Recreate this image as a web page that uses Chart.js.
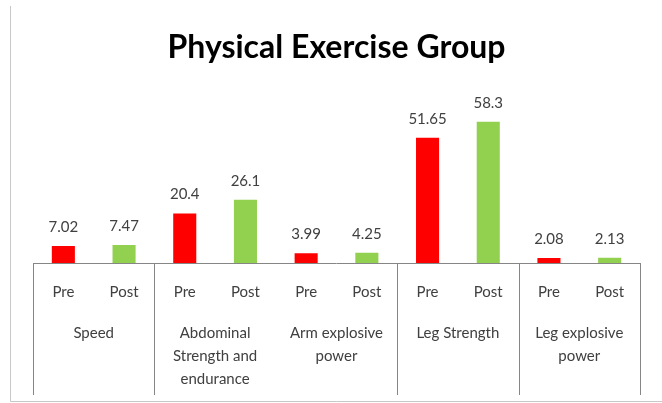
<!DOCTYPE html>
<html>
<head>
<meta charset="utf-8">
<script src="https://cdn.jsdelivr.net/npm/chart.js@4"></script>
<style>
  html, body { margin: 0; padding: 0; background: #fff; }
  #wrap { position: relative; width: 662px; height: 403px; }
</style>
</head>
<body>
<div id="wrap"><canvas id="chart" width="662" height="403"></canvas></div>
<script>
// ── DATA ──────────────────────────────────────
const groups = ['Speed', 'Abdominal Strength and endurance', 'Arm explosive power', 'Leg Strength', 'Leg explosive power'];
const groupLines = [['Speed'], ['Abdominal', 'Strength and', 'endurance'], ['Arm explosive', 'power'], ['Leg Strength'], ['Leg explosive', 'power']];
const phases = ['Pre', 'Post'];
const preValues  = [7.02, 20.4, 3.99, 51.65, 2.08];
const postValues = [7.47, 26.1, 4.25, 58.3, 2.13];
// group boundaries that get a divider line (by group index)
const dividers = [0, 1, 3, 4, 5];

const labels = [], values = [], colors = [];
groups.forEach((g, i) => {
    labels.push(phases[0]); values.push(preValues[i]);  colors.push('#ff0000');
    labels.push(phases[1]); values.push(postValues[i]); colors.push('#92d050');
});

const FONT = 'Lato, "Open Sans", sans-serif';

const axisPlugin = {
    id: 'multiAxis',
    afterDatasetsDraw(chart) {
        const { ctx, chartArea, scales: { x } } = chart;
        const band = x.width / labels.length;
        const base = chartArea.bottom;
        ctx.save();

        // outer frame (left + bottom)
        ctx.strokeStyle = '#c8c8c8';
        ctx.lineWidth = 1;
        ctx.beginPath();
        ctx.moveTo(10.5, 6); ctx.lineTo(10.5, 401.5); ctx.lineTo(662, 401.5);
        ctx.stroke();

        // axis line + group dividers
        ctx.strokeStyle = '#868686';
        ctx.beginPath();
        ctx.moveTo(x.left, base + 0.5); ctx.lineTo(x.right, base + 0.5);
        dividers.forEach(g => {
            const px = Math.round(x.left + g * 2 * band) + 0.5;
            ctx.moveTo(px, base); ctx.lineTo(px, base + 132);
        });
        ctx.stroke();

        // value labels
        ctx.fillStyle = '#404040';
        ctx.font = '15px ' + FONT;
        ctx.textAlign = 'center';
        ctx.textBaseline = 'middle';
        const meta = chart.getDatasetMeta(0);
        meta.data.forEach((bar, i) => {
            ctx.fillText(String(values[i]), bar.x, bar.y - 19);
        });

        // Pre / Post ticks
        labels.forEach((l, i) => {
            ctx.fillText(l, x.getPixelForValue(i), base + 29);
        });

        // group labels
        groupLines.forEach((lines, g) => {
            const cx = (x.getPixelForValue(g * 2) + x.getPixelForValue(g * 2 + 1)) / 2;
            lines.forEach((t, k) => ctx.fillText(t, cx, base + 70 + k * 23));
        });
        ctx.restore();
    }
};

new Chart(document.getElementById('chart').getContext('2d'), {
    type: 'bar',
    data: {
        labels: labels,
        datasets: [{
            data: values,
            backgroundColor: colors,
            borderWidth: 0,
            barPercentage: 0.76,
            categoryPercentage: 0.5
        }]
    },
    options: {
        responsive: false,
        animation: false,
        layout: { padding: { left: 33, right: 22, top: 0, bottom: 140 } },
        plugins: {
            legend: { display: false },
            tooltip: { enabled: false },
            title: {
                display: true,
                text: 'Physical Exercise Group',
                color: '#000',
                font: { family: FONT, size: 32, weight: 'bold' },
                padding: { top: 28, bottom: 27 }
            }
        },
        scales: {
            y: { display: false, min: 0, max: 70 },
            x: { display: false }
        }
    },
    plugins: [axisPlugin]
});
</script>
</body>
</html>
